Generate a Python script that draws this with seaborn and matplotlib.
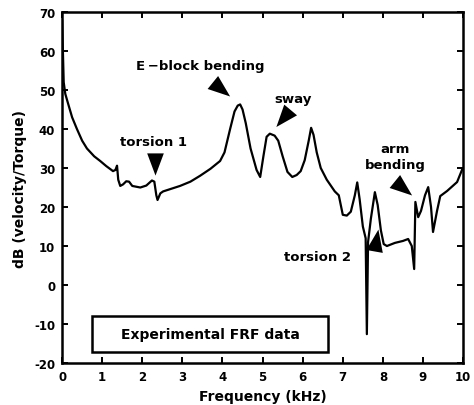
import numpy as np
import pandas as pd
import matplotlib
matplotlib.use("Agg")
import matplotlib.pyplot as plt
from matplotlib.markers import MarkerStyle
from matplotlib.path import Path
from matplotlib.transforms import Affine2D
from matplotlib.patches import Rectangle
import seaborn as sns

# Measured frequency response (frequency in kHz, magnitude in dB)
freq_khz = [0.0, 0.02, 0.04, 0.08, 0.15, 0.25, 0.37, 0.5, 0.62, 0.8, 0.95, 1.1,
            1.27, 1.33, 1.37, 1.4, 1.45, 1.52, 1.6, 1.67, 1.75, 1.95, 2.1, 2.24,
            2.3, 2.35, 2.38, 2.45, 2.52, 2.7, 2.94, 3.2, 3.44, 3.7, 3.94, 4.05,
            4.19, 4.3, 4.38, 4.44, 4.5, 4.58, 4.7, 4.85, 4.94, 5.02, 5.1, 5.18,
            5.3, 5.39, 5.5, 5.62, 5.74, 5.85, 5.95, 6.05, 6.15, 6.21, 6.27, 6.35,
            6.45, 6.6, 6.7, 6.8, 6.9, 7.0, 7.1, 7.2, 7.3, 7.36, 7.42, 7.5, 7.57,
            7.6, 7.63, 7.7, 7.8, 7.87, 7.95, 8.02, 8.1, 8.3, 8.5, 8.63, 8.72,
            8.78, 8.81, 8.88, 8.95, 9.05, 9.13, 9.2, 9.25, 9.35, 9.43, 9.6,
            9.85, 9.98, 10.0]
magnitude_db = [68, 60, 52, 49, 46.5, 43, 40, 37, 35, 33, 31.8, 30.5,
                29.2, 29.5, 30.6, 27, 25.4, 25.8, 26.6, 26.5, 25.4, 25, 25.5, 26.8,
                26.5, 23, 21.8, 23.5, 24, 24.6, 25.4, 26.5, 28, 29.8, 31.8, 34,
                40, 44.5, 46.0, 46.3, 45.0, 41.5, 35, 29.5, 27.7, 33, 38, 38.8,
                38.3, 37, 33, 29, 27.7, 28.2, 29.2, 32, 37, 40.3, 38.5, 34,
                30, 27, 25.5, 24, 23, 18, 17.8, 18.8, 23, 26.3, 22, 15, 12,
                -12.6, 11, 17, 23.8, 20.5, 14, 10.5, 10, 10.8, 11.3, 11.8, 10,
                4.1, 21.3, 17.4, 19, 23, 25.1, 20, 13.6, 19, 22.8, 24.1,
                26.4, 29.7, 30]

# Mode labels and their pointer arrowheads
mode_labels = ["E\u2009\u2212block bending", "sway", "torsion 1", "arm\nbending", "torsion 2"]
label_x = [3.44, 5.76, 2.27, 8.3, 6.36]
label_y = [56.4, 47.7, 36.7, 33.0, 7.4]
pointer_x = [3.97, 5.5, 2.32, 8.5, 7.83]
pointer_y = [50.3, 42.8, 31.0, 24.8, 11.6]
pointer_angle = [231, 140, 180, 231, -10]

x_ticks = list(range(0, 11))
y_ticks = list(range(-20, 71, 10))

sns.set_theme(style="ticks")
plt.rcParams["font.family"] = ["DejaVu Sans"]
plt.rcParams["text.color"] = "black"
plt.rcParams["axes.labelcolor"] = "black"
plt.rcParams["axes.unicode_minus"] = False

fig = plt.figure(figsize=(4.74, 4.06), dpi=100)
ax = fig.add_axes([0.131, 0.1034, 0.846, 0.8646])

df = pd.DataFrame({"Frequency (kHz)": freq_khz, "dB": magnitude_db})
sns.lineplot(data=df, x="Frequency (kHz)", y="dB", ax=ax, color="black",
             linewidth=1.6, estimator=None, sort=False)

# isosceles arrowhead marker
tri = Path([(0, 0.6), (-0.45, -0.6), (0.45, -0.6), (0, 0.6)],
           [Path.MOVETO, Path.LINETO, Path.LINETO, Path.CLOSEPOLY])
for px, py, ang in zip(pointer_x, pointer_y, pointer_angle):
    m = MarkerStyle(tri, transform=Affine2D().rotate_deg(ang))
    ax.plot([px], [py], marker=m, markersize=16, color="black",
            markeredgewidth=0, linestyle="none")

for txt, tx, ty in zip(mode_labels, label_x, label_y):
    ax.text(tx, ty, txt, ha="center", va="center", fontsize=9.5,
            fontweight="bold", linespacing=1.3, color="black")

# caption box
ax.add_patch(Rectangle((0.075, 0.031), 0.588, 0.103, transform=ax.transAxes,
                       fill=False, edgecolor="black", linewidth=1.8))
ax.text(0.369, 0.0825, "Experimental FRF data", transform=ax.transAxes,
        ha="center", va="center", fontsize=10, fontweight="bold", color="black")

ax.set_xlim(0, 10)
ax.set_ylim(-20, 70)
ax.set_xticks(x_ticks)
ax.set_yticks(y_ticks)
ax.tick_params(direction="in", top=True, right=True, length=4, width=1.4,
               labelsize=8.5, pad=5, colors="black")
for lab in ax.get_xticklabels() + ax.get_yticklabels():
    lab.set_fontweight("bold")
for sp in ax.spines.values():
    sp.set_linewidth(1.8)
    sp.set_color("black")
    sp.set_visible(True)

ax.set_xlabel("Frequency (kHz)", fontsize=10, fontweight="bold", labelpad=4)
ax.set_ylabel("dB (velocity/Torque)", fontsize=10, fontweight="bold", labelpad=5)

fig.savefig("out.png", dpi=100)
